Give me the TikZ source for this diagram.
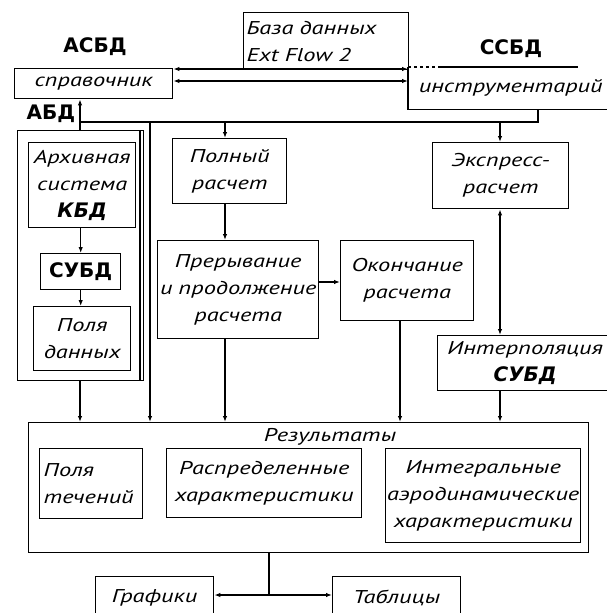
\documentclass[tikz,border=0pt]{standalone}
\usepackage{fontspec}
\usetikzlibrary{arrows.meta}
\newfontfamily\hwfam[FakeStretch=1.32]{PT Sans}
\newfontfamily\upfam{DejaVu Sans}
\newcommand\hwtxt{\hwfam\itshape\fontsize{18.5}{27}\selectfont}
\newcommand\uptxt{\upfam\bfseries\fontsize{20}{24}\selectfont}
\tikzset{
  ln/.style={line width=1.4pt},
  arr/.style={ln, -{Latex[length=6pt,width=4.5pt]}},
  darr/.style={ln, {Latex[length=6pt,width=4.5pt]}-{Latex[length=6pt,width=4.5pt]}},
  bx/.style 2 args={draw, line width=1.4pt, inner sep=0pt, anchor=north west,
    minimum width=#1, text width=#1, minimum height=#2, align=center, font=\hwtxt},
  lbl/.style={inner sep=0pt, font=\uptxt}
}
\begin{document}
\begin{tikzpicture}[x=1pt,y=-1pt]
\useasboundingbox (0,0) rectangle (607,613);
% labels
\node[lbl] (asbd) at (95,47) {АСБД};
\node[lbl] (ssbd) at (511,49) {ССБД};
\node[lbl] (abdl) at (51,114) {АБД};
% top row
\node[bx={158pt}{30pt}] (spr) at (14,68) {справочник};
\node[bx={159pt}{57pt}, inner xsep=3pt, align=left] (baza) at (243,12) {База данных\\Ext Flow 2};
\node[bx={204pt}{41pt}, draw=none, xshift=-5pt] (instr) at (413,67) {инструментарий};
\draw[ln, dashed] (instr.north west) -- ++(32,0);
\draw[ln] ([xshift=32pt]instr.north west) -- ++(138,0);
\draw[ln] (instr.north west) -- (instr.south west) -- (instr.south east);
% АБД block
\node[draw, line width=1.4pt, inner sep=0pt, anchor=north west, minimum width=126pt, minimum height=250pt] (abd) at (17,130) {};
\draw[ln] ([xshift=-4.5pt]abd.north east) -- ([xshift=-4.5pt]abd.south east);
\node[bx={107pt}{85pt}] (arch) at (28,142) {Архивная\\система\\{\uptxt КБД}};
\node[bx={80pt}{36pt}, font=\uptxt] (subd1) at (40,253) {СУБД};
\node[bx={97pt}{64pt}] (polya) at (33,306) {Поля\\данных};
% middle
\node[bx={114pt}{65pt}] (poln) at (172,138) {Полный\\расчет};
\node[bx={161pt}{98pt}] (prer) at (157,240) {Прерывание\\\mbox{и продолжение}\\расчета};
\node[bx={133pt}{80pt}] (okon) at (340,240) {Окончание\\расчета};
\node[bx={136pt}{66pt}] (expr) at (432,142) {Экспресс-\\расчет};
\node[bx={175pt}{55pt}] (interp) at (437,335) {Интерполяция\\{\uptxt СУБД}};
% results
\node[draw, line width=1.4pt, inner sep=0pt, anchor=north west, minimum width=560pt, minimum height=130pt] (res) at (28,422) {};
\node[inner sep=0pt, font=\hwtxt] (reslbl) at (330,437) {Результаты};
\node[bx={95pt}{70pt}, inner xsep=4pt, align=left] (poltech) at (39,448) {Поля\\течений};
\node[bx={195pt}{69pt}] (raspr) at (166,448) {Распределенные\\характеристики};
\node[bx={195pt}{94pt}] (integr) at (385,448) {Интегральные\\аэродинамические\\характеристики};
\node[bx={118pt}{42pt}] (graf) at (95,576) {Графики};
\node[bx={128pt}{42pt}] (tabl) at (332,576) {Таблицы};
% helper coordinates
\coordinate (l1) at (0,69);
\coordinate (l2) at (0,81);
\coordinate (jr) at (0,122);
\coordinate (vx) at (80,0);
\coordinate (x150) at (150,0);
\coordinate (x225) at (225,0);
\coordinate (x400) at (400,0);
\coordinate (x500) at (500,0);
\coordinate (x538) at (538,0);
\coordinate (x269) at (269,0);
\coordinate (y282) at (0,282);
\coordinate (jb) at (0,595);
% connectors
\draw[darr] (spr.east |- l1) -- (instr.west |- l1);
\draw[darr] (spr.east |- l2) -- (instr.west |- l2);
\draw[arr] (vx |- abd.north) -- (vx |- spr.south);
\draw[ln] (x538 |- instr.south) -- (x538 |- jr) -- (vx |- jr);
\draw[arr] (x150 |- jr) -- (x150 |- res.north);
\draw[arr] (x225 |- jr) -- (x225 |- poln.north);
\draw[arr] (x500 |- jr) -- (x500 |- expr.north);
\draw[arr] (x225 |- poln.south) -- (x225 |- prer.north);
\draw[arr] (prer.east |- y282) -- (okon.west |- y282);
\draw[darr] (x500 |- expr.south) -- (x500 |- interp.north);
\draw[arr] (subd1.north |- arch.south) -- (subd1.north);
\draw[arr] (subd1.south) -- (subd1.south |- polya.north);
\draw[arr] (vx |- abd.south) -- (vx |- res.north);
\draw[arr] (x225 |- prer.south) -- (x225 |- res.north);
\draw[arr] (x400 |- okon.south) -- (x400 |- res.north);
\draw[arr] (x500 |- interp.south) -- (x500 |- res.north);
\draw[ln] (x269 |- res.south) -- (x269 |- jb);
\draw[arr] (x269 |- jb) -- (graf.east |- jb);
\draw[arr] (x269 |- jb) -- (tabl.west |- jb);
\end{tikzpicture}
\end{document}
